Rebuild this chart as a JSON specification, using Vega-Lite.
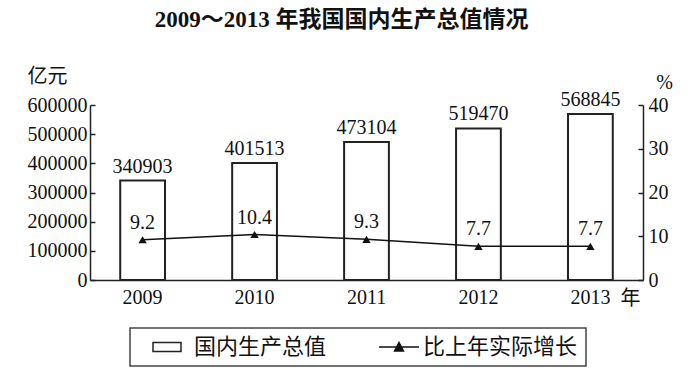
{
  "$schema": "https://vega.github.io/schema/vega-lite/v6.json",
  "width": 553,
  "height": 175,
  "autosize": {"type": "none"},
  "padding": {"left": 90, "top": 105, "right": 57, "bottom": 101},
  "background": "white",
  "title": {
    "text": "2009～2013 年我国国内生产总值情况",
    "font": "Liberation Serif, Noto Sans CJK SC",
    "fontSize": 23,
    "fontWeight": "bold",
    "color": "#111",
    "anchor": "middle",
    "frame": "group",
    "offset": 34,
    "dx": -25
  },
  "data": {
    "values": [
      {"year": "2009", "gdp": 340903, "growth": 9.2},
      {"year": "2010", "gdp": 401513, "growth": 10.4},
      {"year": "2011", "gdp": 473104, "growth": 9.3},
      {"year": "2012", "gdp": 519470, "growth": 7.7},
      {"year": "2013", "gdp": 568845, "growth": 7.7}
    ]
  },
  "layer": [
    {
      "layer": [
        {
          "mark": {"type": "bar", "fill": "white", "strokeWidth": 2},
          "encoding": {
            "x": {
              "field": "year",
              "type": "nominal",
              "scale": {"paddingInner": 0.6, "paddingOuter": 0.27},
              "axis": {
                "orient": "bottom",
                "ticks": false,
                "labelAngle": 0,
                "labelPadding": 7,
                "title": "年",
                "titleAngle": 0,
                "titleX": 540,
                "titleY": 18,
                "titleAlign": "center",
                "titleBaseline": "middle"
              }
            },
            "y": {
              "field": "gdp",
              "type": "quantitative",
              "scale": {"domain": [0, 600000], "nice": false},
              "axis": {
                "orient": "left",
                "values": [0, 100000, 200000, 300000, 400000, 500000, 600000],
                "format": "d",
                "labelOverlap": false,
                "tickSize": -5,
                "labelPadding": 8,
                "title": "亿元",
                "titleAngle": 0,
                "titleX": -43,
                "titleY": -29,
                "titleAlign": "center",
                "titleBaseline": "middle"
              }
            },
            "stroke": {
              "datum": "国内生产总值",
              "type": "nominal",
              "scale": {"domain": ["国内生产总值", "比上年实际增长"], "range": ["#222222", "#111111"]},
              "legend": {
                "orient": "none",
                "legendX": 40,
                "legendY": 223,
                "direction": "horizontal",
                "title": null,
                "labelFont": "Noto Sans CJK SC",
                "labelFontSize": 22,
                "labelColor": "#111",
                "symbolSize": 400,
                "labelOffset": 34,
                "columnPadding": 40,
                "padding": 8,
                "strokeColor": "#444",
                "fillColor": "white",
                "symbolStrokeWidth": 1.5,
                "encoding": {
                  "legend": {
                    "strokeWidth": {"value": 1.5}
                  },
                  "symbols": {
                    "shape": {"value": {"expr": "datum.value === '国内生产总值' ? 'M0.4,-0.45H3.2V0.45H0.4Z' : 'M0.1,0H4.1M1.65,0.4L2.1,-0.45L2.55,0.4Z'"}},
                    "fill": {"value": {"expr": "datum.value === '国内生产总值' ? 'white' : '#111'"}},
                    "stroke": {"value": "#111"}
                  }
                }
              }
            }
          }
        },
        {
          "mark": {"type": "text", "baseline": "bottom", "dy": -4, "font": "Liberation Serif", "fontSize": 20, "color": "#111"},
          "encoding": {
            "x": {"field": "year", "type": "nominal"},
            "y": {
              "field": "gdp",
              "type": "quantitative",
              "axis": {
                "orient": "left",
                "values": [0, 100000, 200000, 300000, 400000, 500000, 600000],
                "format": "d",
                "labelOverlap": false,
                "tickSize": -5,
                "labelPadding": 8,
                "title": "亿元",
                "titleAngle": 0,
                "titleX": -43,
                "titleY": -29,
                "titleAlign": "center",
                "titleBaseline": "middle"
              }
            },
            "text": {"field": "gdp", "type": "quantitative", "format": "d"}
          }
        }
      ]
    },
    {
      "layer": [
        {
          "mark": {"type": "line", "strokeWidth": 1.5},
          "encoding": {
            "x": {"field": "year", "type": "nominal"},
            "y": {
              "field": "growth",
              "type": "quantitative",
              "scale": {"domain": [0, 40], "nice": false},
              "axis": {
                "orient": "right",
                "values": [0, 10, 20, 30, 40],
                "labelOverlap": false,
                "tickSize": -5,
                "labelPadding": 10,
                "title": "%",
                "titleFont": "Liberation Serif",
                "titleAngle": 0,
                "titleX": 21,
                "titleY": -23,
                "titleAlign": "center",
                "titleBaseline": "middle"
              }
            },
            "stroke": {"datum": "比上年实际增长", "type": "nominal"}
          }
        },
        {
          "mark": {"type": "point", "shape": "triangle-up", "filled": true, "size": 70, "color": "#111", "opacity": 1},
          "encoding": {
            "x": {"field": "year", "type": "nominal"},
            "y": {"field": "growth", "type": "quantitative"}
          }
        },
        {
          "mark": {"type": "text", "baseline": "middle", "dy": -17, "font": "Liberation Serif", "fontSize": 20, "color": "#111"},
          "encoding": {
            "x": {"field": "year", "type": "nominal"},
            "y": {"field": "growth", "type": "quantitative"},
            "text": {"field": "growth", "type": "quantitative", "format": ".1f"}
          }
        }
      ]
    }
  ],
  "resolve": {"scale": {"y": "independent"}},
  "config": {
    "view": {"stroke": null},
    "axis": {
      "labelFont": "Liberation Serif",
      "labelFontSize": 20,
      "labelColor": "#111",
      "domainColor": "#222",
      "domainWidth": 1.5,
      "tickColor": "#222",
      "tickWidth": 1.5,
      "grid": false,
      "titleFont": "Noto Sans CJK SC",
      "titleFontWeight": "normal",
      "titleFontSize": 20,
      "titleColor": "#111"
    }
  }
}
